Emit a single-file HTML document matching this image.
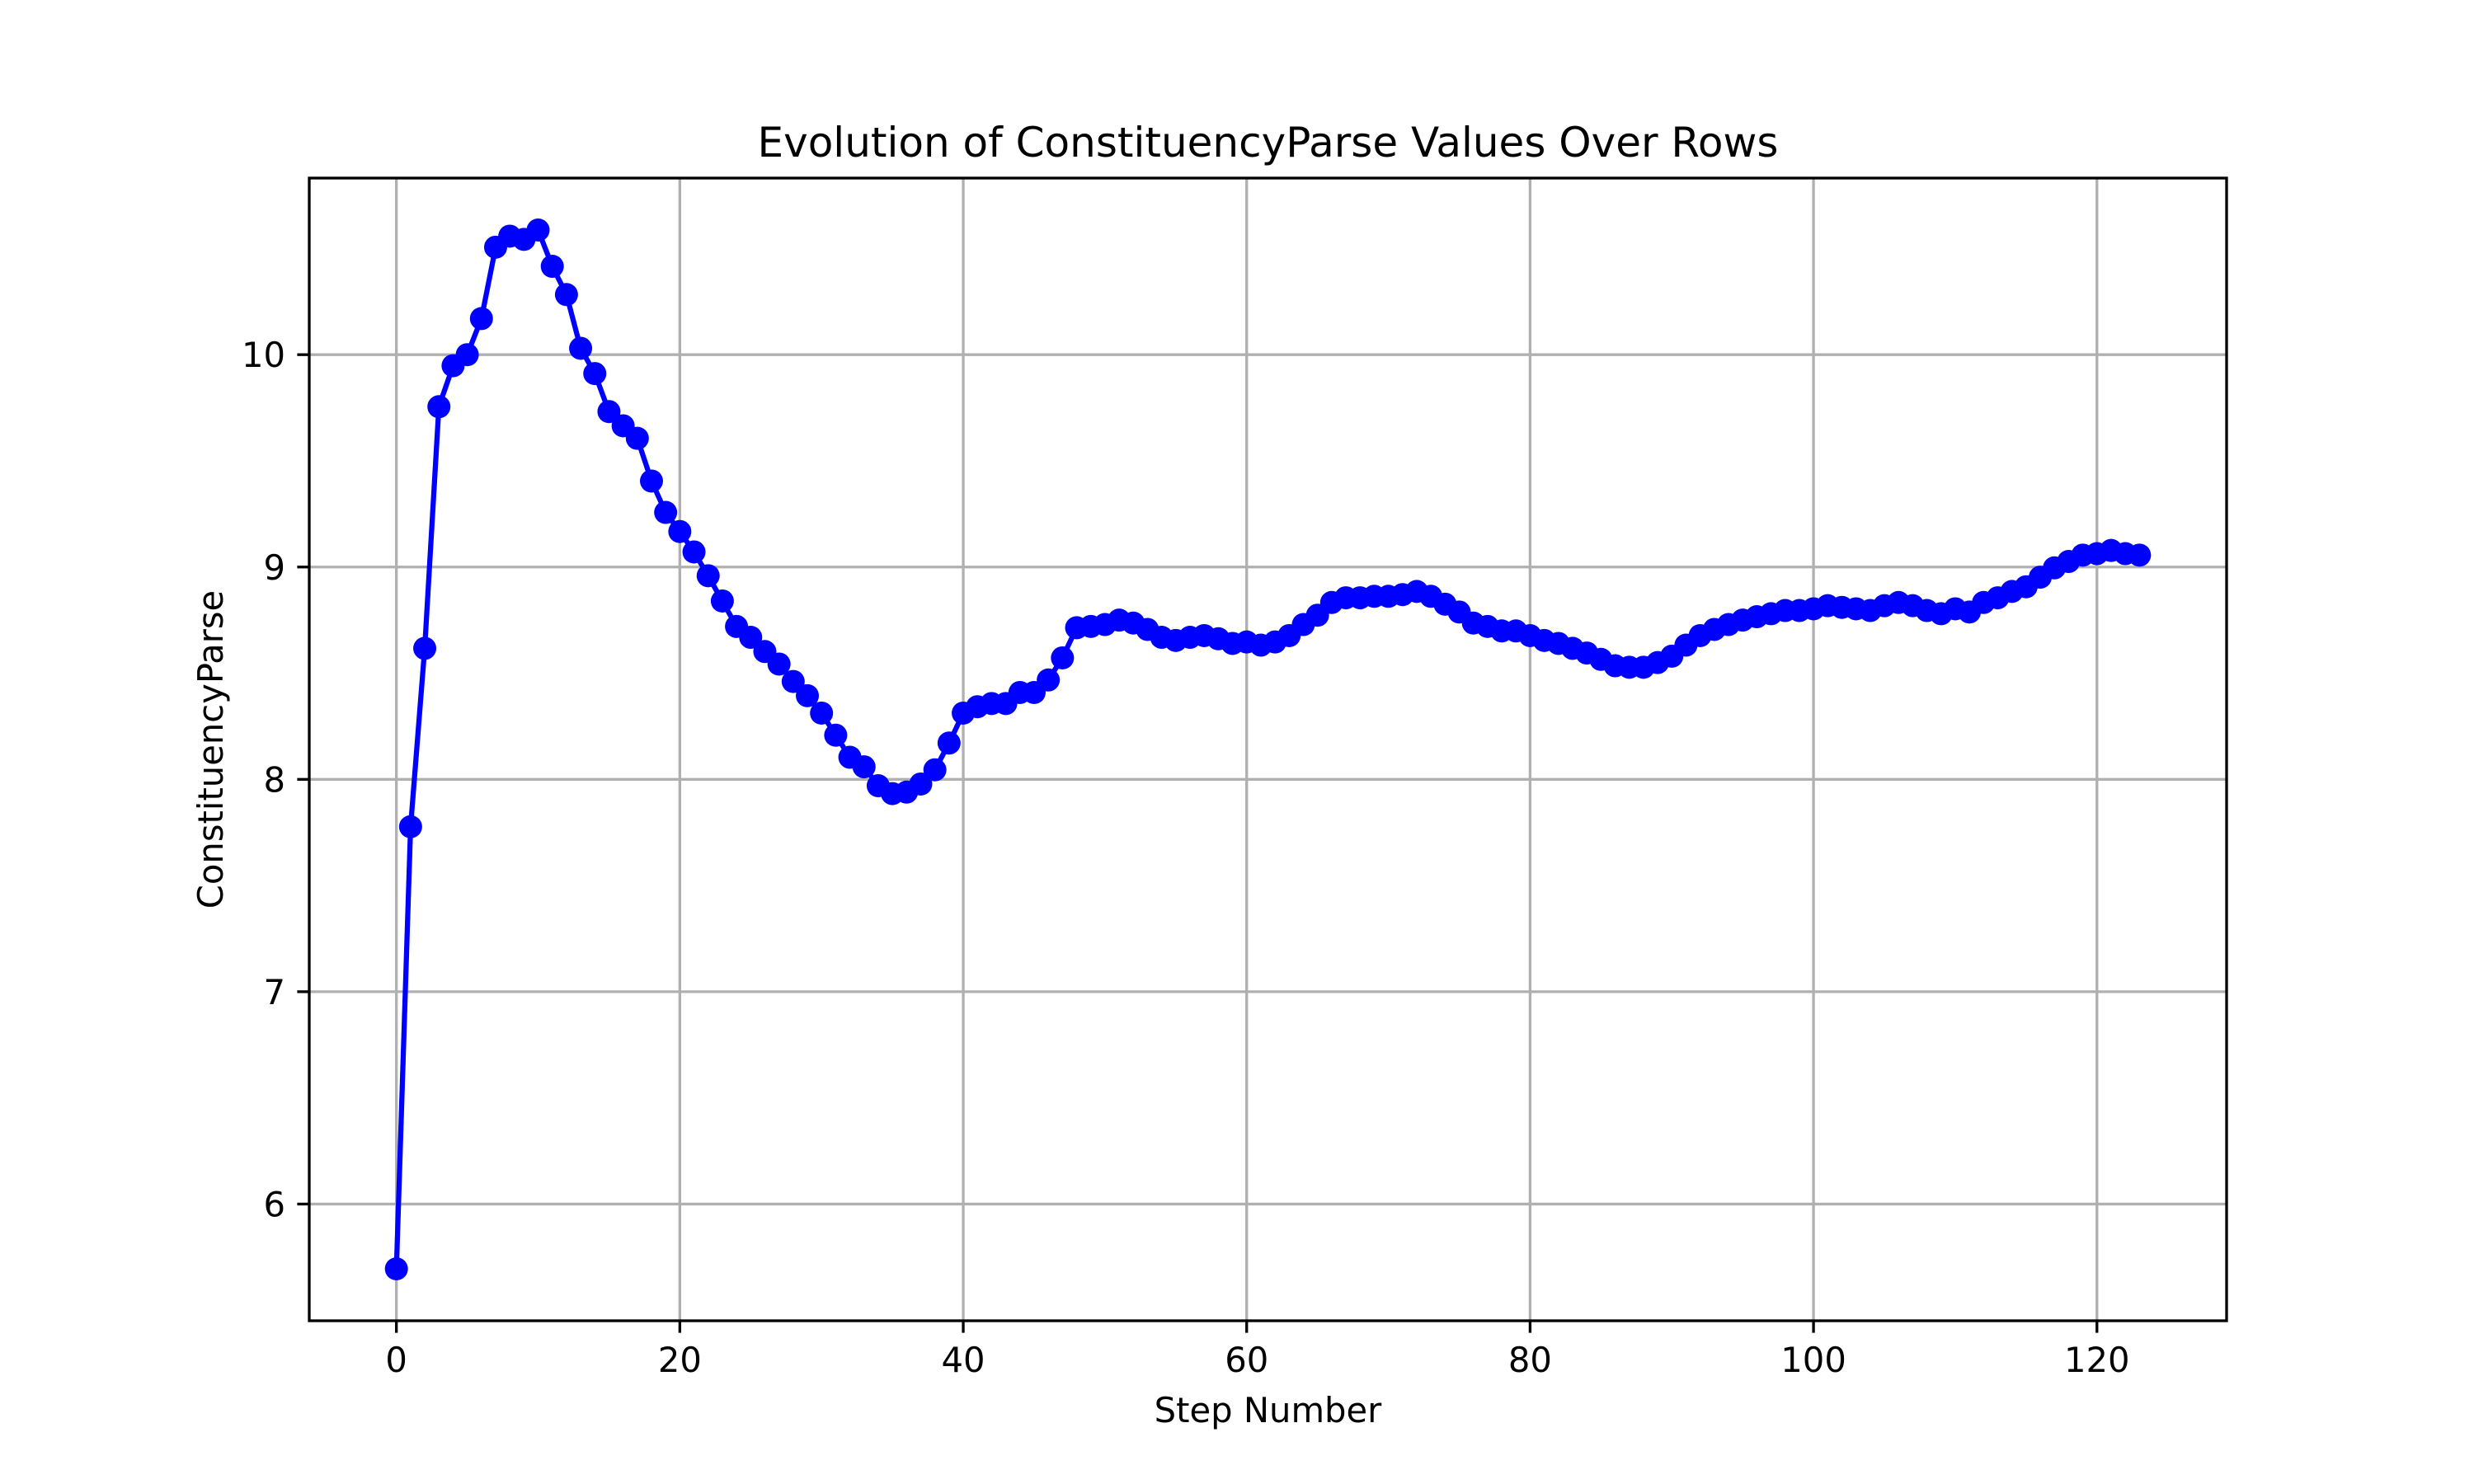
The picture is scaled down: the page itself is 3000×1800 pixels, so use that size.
<!DOCTYPE html>
<html><head><meta charset="utf-8"><style>
html,body{margin:0;padding:0;background:#fff}
svg{display:block}
text{font-family:"DejaVu Sans","Liberation Sans",sans-serif;fill:#000}
</style></head><body>
<svg id="chart" width="3000" height="1800" viewBox="0 0 3000 1800" xmlns="http://www.w3.org/2000/svg">
<rect width="3000" height="1800" fill="#fff"/>
<g id="grid"></g>
<g id="series"></g>
<rect x="375" y="216" width="2325" height="1386" fill="none" stroke="#000" stroke-width="3.33"/>
<g id="ticks"></g>
<text x="1537.5" y="190" font-size="50" text-anchor="middle">Evolution of ConstituencyParse Values Over Rows</text>
<text x="1537.5" y="1725" font-size="41.7" text-anchor="middle">Step Number</text>
<text x="0" y="0" font-size="41.7" text-anchor="middle" transform="translate(270,909) rotate(-90)">ConstituencyParse</text>
</svg>
<script>
const values = [5.695,7.777,8.617,9.755,9.948,10.0,10.17,10.506,10.558,10.543,10.587,10.416,10.283,10.03,9.911,9.732,9.665,9.606,9.405,9.257,9.167,9.071,8.959,8.84,8.72,8.669,8.602,8.543,8.461,8.394,8.312,8.208,8.104,8.059,7.97,7.933,7.94,7.978,8.045,8.171,8.312,8.342,8.357,8.357,8.409,8.409,8.468,8.572,8.714,8.72,8.729,8.75,8.736,8.706,8.669,8.654,8.669,8.677,8.662,8.64,8.647,8.632,8.647,8.677,8.729,8.773,8.833,8.855,8.855,8.862,8.862,8.87,8.885,8.862,8.825,8.788,8.736,8.72,8.699,8.699,8.677,8.654,8.64,8.617,8.595,8.565,8.535,8.528,8.528,8.55,8.58,8.632,8.677,8.706,8.729,8.75,8.766,8.78,8.795,8.795,8.803,8.818,8.81,8.803,8.795,8.818,8.833,8.818,8.795,8.78,8.803,8.788,8.833,8.855,8.885,8.907,8.952,8.996,9.026,9.056,9.063,9.078,9.063,9.056];
const xTicks = [0,20,40,60,80,100,120];
const yTicks = [6,7,8,9,10];
const NS="http://www.w3.org/2000/svg";
const L=375,R=2700,T=216,B=1602;
const n=values.length;
const xmin=-0.05*(n-1), xmax=(n-1)*1.05;
const vmin=Math.min(...values), vmax=Math.max(...values), pad=(vmax-vmin)*0.05;
const ymin=vmin-pad, ymax=vmax+pad;
function xs(v){return L+(v-xmin)/(xmax-xmin)*(R-L);}
function ys(v){return B-(v-ymin)/(ymax-ymin)*(B-T);}
function mk(tag,attrs,parent){const e=document.createElementNS(NS,tag);for(const k in attrs)e.setAttribute(k,attrs[k]);parent.appendChild(e);return e;}
const grid=document.getElementById('grid'),ticks=document.getElementById('ticks'),series=document.getElementById('series');
xTicks.forEach(t=>{
  const x=xs(t);
  const g=mk('line',{x1:x,x2:x,y1:T,y2:B,stroke:'#b0b0b0','stroke-width':3.33},grid);
  
  
  const tk=mk('line',{x1:x,x2:x,y1:B,y2:B+14.6,stroke:'#000','stroke-width':3.33},ticks);
  
  
  const lb=mk('text',{x:x,y:B+62,'font-size':41.7,'text-anchor':'middle'},ticks);
  lb.textContent=t;
  
  
});
yTicks.forEach(t=>{
  const y=ys(t);
  const g=mk('line',{x1:L,x2:R,y1:y,y2:y,stroke:'#b0b0b0','stroke-width':3.33},grid);
  
  
  const tk=mk('line',{x1:L-14.6,x2:L,y1:y,y2:y,stroke:'#000','stroke-width':3.33},ticks);
  
  
  const lb=mk('text',{x:L-29,y:y+15,'font-size':41.7,'text-anchor':'end'},ticks);
  lb.textContent=t;
  
  
});
const pts=values.map((v,i)=>xs(i).toFixed(1)+','+ys(v).toFixed(1)).join(' ');
const pl=mk('polyline',{points:pts,fill:'none',stroke:'#0000ff','stroke-width':6.25,'stroke-linejoin':'round'},series);


values.forEach((v,i)=>{
  const c=mk('circle',{cx:xs(i),cy:ys(v),r:14,fill:'#0000ff'},series);
  
  
});
</script>
</body></html>
